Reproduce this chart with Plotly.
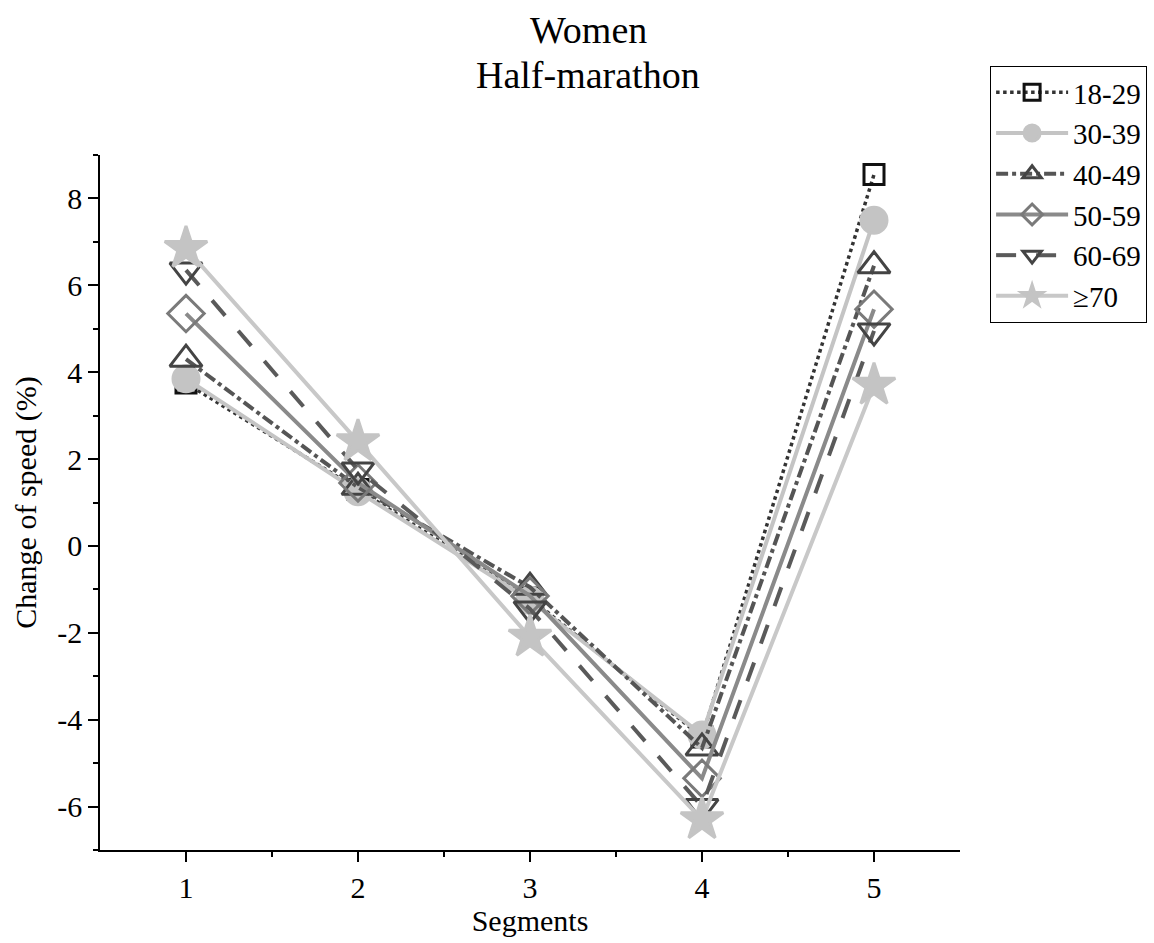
import plotly.graph_objects as go

segments = [1, 2, 3, 4, 5]
groups = ["18-29", "30-39", "40-49", "50-59", "60-69", "≥70"]
v_18_29 = [3.75, 1.3, -1.2, -4.4, 8.55]
v_30_39 = [3.85, 1.25, -1.25, -4.35, 7.5]
v_40_49 = [4.3, 1.35, -0.95, -4.65, 6.45]
v_50_59 = [5.35, 1.45, -1.15, -5.35, 5.45]
v_60_69 = [6.35, 1.75, -1.45, -6.0, 4.95]
v_70 = [6.85, 2.4, -2.1, -6.3, 3.7]
values = [v_18_29, v_30_39, v_40_49, v_50_59, v_60_69, v_70]
y_ticks = [-6, -4, -2, 0, 2, 4, 6, 8]
y_ticktext = ["-6", "-4", "-2", "0", "2", "4", "6", "8"]

styles = [
    dict(color="#333333", dash="dot", symbol="square-open", mcolor="#111111", msize=20, width=3.5),
    dict(color="#c4c4c4", dash="solid", symbol="circle", mcolor="#c4c4c4", msize=26, width=4),
    dict(color="#555555", dash="dashdot", symbol="triangle-up-open", mcolor="#444444", msize=28, width=4),
    dict(color="#8a8a8a", dash="solid", symbol="diamond-open", mcolor="#7a7a7a", msize=28, width=4),
    dict(color="#5a5a5a", dash="longdash", symbol="triangle-down-open", mcolor="#444444", msize=28, width=4),
    dict(color="#c8c8c8", dash="solid", symbol="star", mcolor="#c4c4c4", msize=32, width=4),
]

fig = go.Figure()
for name, vals, s in zip(groups, values, styles):
    fig.add_trace(go.Scatter(
        x=segments, y=vals, name=name, mode="lines+markers",
        line=dict(color=s["color"], dash=s["dash"], width=s["width"]),
        marker=dict(symbol=s["symbol"], size=s["msize"], color=s["mcolor"],
                    line=dict(color=s["mcolor"], width=3)),
    ))

font = "Liberation Serif, Times New Roman, serif"
fig.update_layout(
    width=1154, height=943,
    paper_bgcolor="white", plot_bgcolor="white",
    margin=dict(l=100, r=194, t=155, b=93, autoexpand=False),
    font=dict(family=font, size=30, color="black"),
    showlegend=True,
    legend=dict(x=1.035, xanchor="left", y=(850 - 66) / 695, yanchor="top",
                bordercolor="black", borderwidth=1, bgcolor="white",
                font=dict(family=font, size=29), tracegroupgap=0, itemwidth=72),
    annotations=[
        dict(text="Women", x=0.568, y=(850 - 30) / 695, xref="paper", yref="paper",
             xanchor="center", yanchor="middle", showarrow=False,
             font=dict(family=font, size=38, color="black")),
        dict(text="Half-marathon", x=0.568, y=(850 - 75) / 695, xref="paper", yref="paper",
             xanchor="center", yanchor="middle", showarrow=False,
             font=dict(family=font, size=38, color="black")),
    ],
    xaxis=dict(range=[0.5, 5.5], tickvals=segments, ticks="outside", ticklen=10, tickwidth=1.5,
               showline=True, linecolor="black", linewidth=1.5, showgrid=False, zeroline=False,
               tickfont=dict(family=font, size=30, color="black"),
               minor=dict(tickvals=[1.5, 2.5, 3.5, 4.5], ticks="outside", ticklen=5, tickwidth=1.5, tickcolor="black"),
               tickcolor="black",
               title=dict(text="Segments", font=dict(family=font, size=30), standoff=0)),
    yaxis=dict(range=[-7, 9], tickvals=y_ticks, ticktext=y_ticktext, ticks="outside", ticklen=10, tickwidth=1.5,
               showline=True, linecolor="black", linewidth=1.5, showgrid=False, zeroline=False,
               tickfont=dict(family=font, size=30, color="black"),
               minor=dict(tickvals=[-7, -5, -3, -1, 1, 3, 5, 7, 9], ticks="outside", ticklen=5, tickwidth=1.5, tickcolor="black"),
               tickcolor="black",
               title=dict(text="Change of speed (%)", font=dict(family=font, size=30), standoff=12)),
)

fig.write_html("out.html")
